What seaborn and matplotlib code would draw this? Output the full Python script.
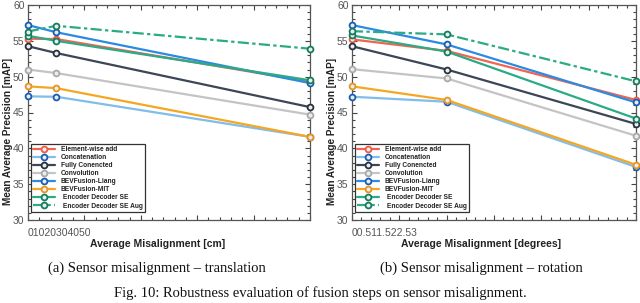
import numpy as np
import pandas as pd
import matplotlib
matplotlib.use("Agg")
import matplotlib.pyplot as plt
from matplotlib.ticker import MultipleLocator
import seaborn as sns

sns.set_theme(style="white")
plt.rcParams['font.family'] = ['Liberation Sans', 'DejaVu Sans']

methods = ["Element-wise add", "Concatenation", "Fully Conencted", "Convolution",
           "BEVFusion-Liang", "BEVFusion-MIT", " Encoder Decoder SE", " Encoder Decoder SE Aug"]

trans_x = [0, 5, 50]
rot_x = [0, 1, 3]

trans_vals = {
    "Element-wise add":        [55.3, 55.25, 49.3],
    "Concatenation":           [47.25, 47.2, 41.6],
    "Fully Conencted":         [54.25, 53.3, 45.75],
    "Convolution":             [51.0, 50.5, 44.7],
    "BEVFusion-Liang":         [57.2, 56.2, 49.1],
    "BEVFusion-MIT":           [48.65, 48.4, 41.6],
    " Encoder Decoder SE":     [55.7, 55.0, 49.5],
    " Encoder Decoder SE Aug": [56.3, 57.1, 53.9],
}
rot_vals = {
    "Element-wise add":        [55.2, 53.6, 46.75],
    "Concatenation":           [47.2, 46.5, 37.4],
    "Fully Conencted":         [54.25, 51.0, 43.4],
    "Convolution":             [51.05, 49.75, 41.75],
    "BEVFusion-Liang":         [57.2, 54.5, 46.4],
    "BEVFusion-MIT":           [48.65, 46.75, 37.7],
    " Encoder Decoder SE":     [55.75, 53.5, 44.15],
    " Encoder Decoder SE Aug": [56.35, 55.9, 49.35],
}

line_colors = {
    "Element-wise add": "#f26452",
    "Concatenation": "#80bdeb",
    "Fully Conencted": "#3b4656",
    "Convolution": "#c4c4c4",
    "BEVFusion-Liang": "#2b8ae2",
    "BEVFusion-MIT": "#f5a623",
    " Encoder Decoder SE": "#2bab85",
    " Encoder Decoder SE Aug": "#2bab85",
}
marker_colors = {
    "Element-wise add": "#ef5a45",
    "Concatenation": "#1a5cb4",
    "Fully Conencted": "#28303c",
    "Convolution": "#a9a9a9",
    "BEVFusion-Liang": "#1a5cb4",
    "BEVFusion-MIT": "#e9951c",
    " Encoder Decoder SE": "#137c5c",
    " Encoder Decoder SE Aug": "#137c5c",
}

fig = plt.figure(figsize=(6.4, 3.03), dpi=100)
W, H = 640, 303
ax1 = fig.add_axes([28 / W, 1 - 220 / H, 282 / W, 215 / H])
ax2 = fig.add_axes([352 / W, 1 - 220 / H, 284 / W, 215 / H])


def draw(ax, xs, vals, xmax, major, minor, ticktext, xlabel, xlabel_cx, caption, cap_cx):
    rows = []
    for m in methods:
        for x, v in zip(xs, vals[m]):
            rows.append({"x": x, "y": v, "method": m})
    df = pd.DataFrame(rows)
    for m in methods:
        sub = df[df["method"] == m]
        ls = (0, (5, 1.5, 1.5, 1.5)) if "Aug" in m else "-"
        sns.lineplot(data=sub, x="x", y="y", ax=ax, color=line_colors[m], lw=1.6,
                     linestyle=ls, marker="o", markersize=4.2,
                     markerfacecolor="#e8eef0", markeredgecolor=marker_colors[m],
                     markeredgewidth=1.3, label=m, clip_on=False, zorder=3)
    ax.set_xlim(0, xmax)
    ax.set_ylim(30, 60)
    ax.xaxis.set_major_locator(MultipleLocator(major))
    ax.xaxis.set_minor_locator(MultipleLocator(minor))
    ax.yaxis.set_major_locator(MultipleLocator(5))
    ax.yaxis.set_minor_locator(MultipleLocator(1))
    ax.tick_params(which="both", direction="in", top=True, right=True, bottom=True, left=True,
                   colors="#444444", labelcolor="#555555", labelsize=7.5, width=0.8)
    ax.tick_params(which="major", length=3.5, pad=2.5)
    ax.tick_params(which="minor", length=2)
    ax.set_xticklabels([])
    ax.set_xlabel("")
    ax.set_ylabel("")
    for s in ax.spines.values():
        s.set_color("#555555")
        s.set_linewidth(0.9)
    ax.text(-0.003, -0.035, ticktext, transform=ax.transAxes, ha="left", va="top",
            fontsize=7.5, color="#555555")
    fig.text(xlabel_cx / W, 1 - 244 / H, xlabel, ha="center", va="center",
             fontsize=7.5, fontweight="bold", color="#222222")
    fig.text(cap_cx / W, 1 - 268 / H, caption, ha="center", va="center",
             fontsize=10.5, family=["Liberation Serif", "DejaVu Serif"], color="#111111")
    fig.text((ax.get_position().x0 * W - 20) / W, 1 - 132 / H, "Mean Average Precision [mAP]",
             ha="center", va="center", rotation=90, fontsize=7.2, fontweight="bold", color="#222222")
    leg = ax.legend(loc="lower left", bbox_to_anchor=(0.003, 0.03),
                    prop={"size": 4.8, "weight": "bold"},
                    frameon=True, fancybox=False, framealpha=1, edgecolor="#333333",
                    handlelength=3.3, handletextpad=0.9, labelspacing=0.16,
                    borderpad=0.3, borderaxespad=0.3)
    for t in leg.get_texts():
        t.set_color("#222222")
    leg.get_frame().set_linewidth(0.9)


draw(ax1, trans_x, trans_vals, 50, 10, 2, "01020304050", "Average Misalignment [cm]", 158,
     "(a) Sensor misalignment \u2013 translation", 157)
draw(ax2, rot_x, rot_vals, 3, 0.5, 0.1, "00.511.522.53", "Average Misalignment [degrees]", 481,
     "(b) Sensor misalignment \u2013 rotation", 481)
ax2.set_yticklabels([str(int(t)) if 30 <= t <= 60 else "" for t in ax2.get_yticks()])
ax1.set_yticklabels([str(int(t)) if 30 <= t <= 60 else "" for t in ax1.get_yticks()])

fig.text(320 / W, 1 - 293 / H, "Fig. 10: Robustness evaluation of fusion steps on sensor misalignment.",
         ha="center", va="center", fontsize=10.5, family=["Liberation Serif", "DejaVu Serif"],
         color="#111111")

fig.savefig("out.png", dpi=100, facecolor="white")
